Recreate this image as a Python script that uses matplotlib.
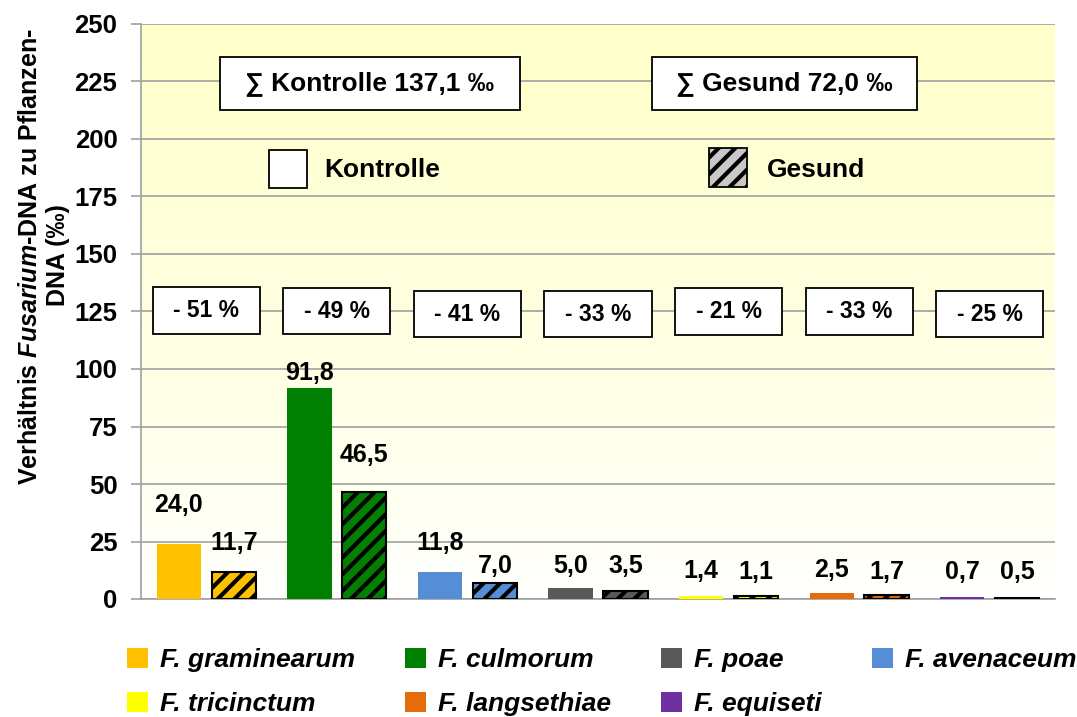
import numpy as np
import matplotlib
matplotlib.use("Agg")
import matplotlib.pyplot as plt
from matplotlib.patches import Rectangle
from matplotlib.colors import to_rgb

plt.rcParams['font.family'] = ['Liberation Sans', 'DejaVu Sans']
plt.rcParams['font.weight'] = 'bold'
plt.rcParams['mathtext.fontset'] = 'custom'
plt.rcParams['mathtext.it'] = 'Liberation Sans:italic:bold'
plt.rcParams['mathtext.rm'] = 'Liberation Sans:bold'
plt.rcParams['hatch.linewidth'] = 3.0

# Fusarium-Arten in Reihenfolge der Balken
species = ['F. graminearum', 'F. culmorum', 'F. avenaceum', 'F. poae',
           'F. tricinctum', 'F. langsethiae', 'F. equiseti']
colors = ['#FFC000', '#008000', '#558ED5', '#595959',
          '#FFFF00', '#E46C0A', '#7030A0']
kontrolle = [24.0, 91.8, 11.8, 5.0, 1.4, 2.5, 0.7]
gesund = [11.7, 46.5, 7.0, 3.5, 1.1, 1.7, 0.5]
reduktion = [-51, -49, -41, -33, -21, -33, -25]
summe_kontrolle = 137.1
summe_gesund = 72.0

# Abstand der Wertebeschriftungen ueber den Balken (pt)
lift_k = [28, 10.5, 21, 15.5, 17.5, 17, 18.5]
lift_g = [21, 27, 12, 18, 17.5, 16.5, 18.5]
# Hoehe der Prozent-Kaesten
box_y = [125.6, 125.2, 123.9, 123.9, 124.8, 124.8, 123.9]


def de(v):
    return f"{v:.1f}".replace('.', ',')


fig = plt.figure(figsize=(10.77, 7.17), dpi=100)
ax = fig.add_axes([141 / 1077, 1 - 599 / 717, (1055 - 141) / 1077, (599 - 24) / 717])
ax.set_xlim(-0.5, 6.5)
ax.set_ylim(0, 250)

# Hintergrund mit Verlauf von hellgelb nach weiss
top = np.array(to_rgb('#FFFFCA'))
bottom = np.array(to_rgb('#FFFFFF'))
t = np.linspace(0, 1, 256)[:, None] ** 0.8
grad = bottom + (top - bottom) * t
ax.imshow(grad[:, None, :].repeat(2, axis=1), extent=(-0.5, 6.5, 0, 250),
          origin='lower', aspect='auto', zorder=0)

ax.set_yticks(np.arange(0, 251, 25))
ax.yaxis.grid(True, color='#A0A0A0', linewidth=1.2, zorder=1)
ax.set_axisbelow(True)
ax.set_xticks([])
for side in ['top', 'right']:
    ax.spines[side].set_visible(False)
ax.spines['left'].set_color('#A0A0A0')
ax.spines['bottom'].set_color('#A0A0A0')
ax.spines['left'].set_linewidth(1.2)
ax.spines['bottom'].set_linewidth(1.2)
ax.tick_params(axis='y', colors='#A0A0A0', length=7, width=1.2, pad=10,
               labelcolor='black', labelsize=18.5)
for lbl in ax.get_yticklabels():
    lbl.set_fontweight('bold')

x = np.arange(len(species))
w = 0.34
ax.bar(x - 0.21, kontrolle, w, color=colors, zorder=3)
ax.bar(x + 0.21, gesund, w, color=colors, edgecolor='black', linewidth=1.5,
       hatch='//', zorder=3)

for i in range(len(species)):
    ax.annotate(de(kontrolle[i]), (x[i] - 0.21, kontrolle[i]), xytext=(0, lift_k[i]),
                textcoords='offset points', ha='center', va='center',
                fontsize=18, fontweight='bold', zorder=5)
    ax.annotate(de(gesund[i]), (x[i] + 0.21, gesund[i]), xytext=(0, lift_g[i]),
                textcoords='offset points', ha='center', va='center',
                fontsize=18, fontweight='bold', zorder=5)
    # Kasten mit prozentualer Abnahme
    ax.add_patch(Rectangle((x[i] - 0.41, box_y[i] - 10.2), 0.82, 20.4,
                           facecolor='white', edgecolor='black', linewidth=1.3, zorder=4))
    ax.text(x[i], box_y[i], f"- {abs(reduktion[i])} %", ha='center', va='center',
            fontsize=16.5, fontweight='bold', zorder=5)

# Summen-Kaesten
ax.add_patch(Rectangle((0.105, 212.7), 2.297, 23.0, facecolor='white',
                       edgecolor='black', linewidth=1.3, zorder=4))
ax.text(1.2535, 224.2, f"∑ Kontrolle {de(summe_kontrolle)} ‰", ha='center', va='center',
        fontsize=19, fontweight='bold', zorder=5)
ax.add_patch(Rectangle((3.413, 212.7), 2.029, 23.0, facecolor='white',
                       edgecolor='black', linewidth=1.3, zorder=4))
ax.text(4.4275, 224.2, f"∑ Gesund {de(summe_gesund)} ‰", ha='center', va='center',
        fontsize=19, fontweight='bold', zorder=5)

# Legende Kontrolle / Gesund
ax.add_patch(Rectangle((0.480, 178.8), 0.291, 16.5, facecolor='white',
                       edgecolor='black', linewidth=1.3, zorder=4))
ax.text(0.901, 186.5, "Kontrolle", ha='left', va='center', fontsize=19,
        fontweight='bold', zorder=5)
ax.add_patch(Rectangle((3.849, 179.3), 0.291, 16.9, facecolor='#C8C8C8',
                       edgecolor='black', linewidth=1.3, hatch='//', zorder=4))
ax.text(4.293, 186.5, "Gesund", ha='left', va='center', fontsize=19,
        fontweight='bold', zorder=5)

# Achsenbeschriftung
fig.text(30 / 1077, 1 - 257 / 717, r"Verhältnis $\mathit{Fusarium}$-DNA zu Pflanzen-",
         rotation=90, ha='center', va='center', fontsize=18, fontweight='bold')
fig.text(58 / 1077, 1 - 255 / 717, "DNA (‰)", rotation=90, ha='center', va='center',
         fontsize=18, fontweight='bold')

# Artenlegende unten (zeilenweise gefuellt)
handles = {s: Rectangle((0, 0), 1, 1, facecolor=c, edgecolor='none')
           for s, c in zip(species, colors)}
col_major = ['F. graminearum', 'F. tricinctum', 'F. culmorum', 'F. langsethiae',
             'F. poae', 'F. equiseti', 'F. avenaceum']
fig.legend([handles[s] for s in col_major], col_major, ncol=4, frameon=False,
           loc='upper left', bbox_to_anchor=(127 / 1077, 1 - 648 / 717),
           prop={'style': 'italic', 'weight': 'bold', 'size': 19},
           handlelength=0.8, handleheight=0.8, handletextpad=0.45,
           columnspacing=1.9, labelspacing=0.75, borderpad=0, borderaxespad=0)

fig.savefig('out.png', dpi=100)
